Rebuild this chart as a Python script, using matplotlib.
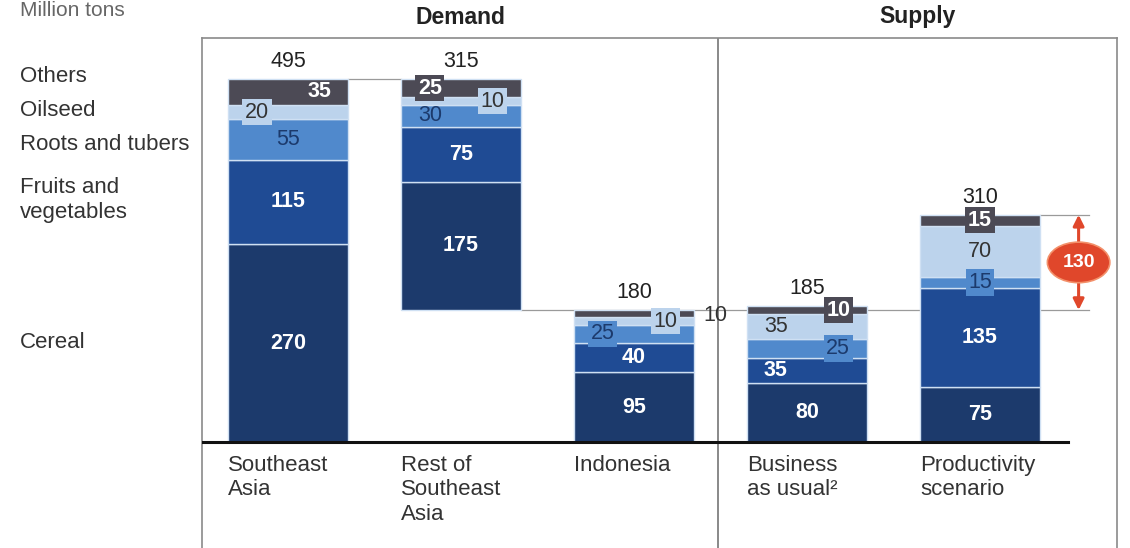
import matplotlib.pyplot as plt

plt.rcParams["font.family"] = ["Liberation Sans", "DejaVu Sans"]

# Food demand vs supply, million tons
categories = [
    "Southeast\nAsia",
    "Rest of\nSoutheast\nAsia",
    "Indonesia",
    "Business\nas usual²",
    "Productivity\nscenario",
]
segment_names = ["Cereal", "Fruits and\nvegetables", "Roots and tubers", "Oilseed", "Others"]
cereal = [270, 175, 95, 80, 75]
fruits_veg = [115, 75, 40, 35, 135]
roots = [55, 30, 25, 25, 15]
oilseed = [20, 10, 10, 35, 70]
others = [35, 25, 10, 10, 15]
totals = [495, 315, 180, 185, 310]
# Rest of Southeast Asia floats on top of Indonesia
bases = [0, 180, 0, 0, 0]
gap_value = 130

colors = ["#1c3a6c", "#1f4b94", "#5089cc", "#bcd3ec", "#4c4a55"]
text_colors = ["white", "white", "#1c3a6c", "#333333", "white"]
text_weights = ["bold", "bold", "normal", "normal", "bold"]

# horizontal offset of each segment label inside its bar (-1 left, 0 centre, 1 right)
label_side = [
    [0, 0, 0, -1, 1],
    [0, 0, -1, 1, -1],
    [0, 0, -1, 1, None],
    [0, -1, 1, -1, 1],
    [0, 0, 0, 0, 0],
]

fig = plt.figure(figsize=(11.3, 5.48), dpi=100)
ax = fig.add_axes([202 / 1130, 0, 915 / 1130, 510 / 548])

px_per_unit = 0.733
ax.set_ylim(-106 / px_per_unit, 404 / px_per_unit)
ax.set_xlim((202 - 288) / 173, (1117 - 288) / 173)
ax.set_xticks([])
ax.set_yticks([])
for side in ["left", "top", "right"]:
    ax.spines[side].set_color("#8a8a8a")
    ax.spines[side].set_linewidth(1.2)
ax.spines["bottom"].set_visible(False)

x = list(range(len(categories)))
width = 0.695
series = [cereal, fruits_veg, roots, oilseed, others]

bottoms = list(bases)
for k, values in enumerate(series):
    ax.bar(x, values, width, bottom=bottoms, color=colors[k],
           edgecolor="#cfe0f3", linewidth=1, zorder=3)
    for i, v in enumerate(values):
        side = label_side[i][k]
        if side is None:
            continue
        cy = bottoms[i] + v / 2
        box = None
        if v <= 25:
            box = dict(boxstyle="square,pad=0.12", fc=colors[k], ec="none")
        ax.text(i + side * 0.18, cy, str(v), ha="center", va="center",
                fontsize=15.5, color=text_colors[k], fontweight=text_weights[k],
                bbox=box, zorder=5)
    bottoms = [b + v for b, v in zip(bottoms, values)]

# Indonesia "Others" label sits outside the bar
ax.text(2.4, bottoms[2] - others[2] / 2 - 2, str(others[2]),
        ha="left", va="center", fontsize=15.5, color="#333333", zorder=5)

# totals above bars
for i, t in enumerate(totals):
    ax.annotate(str(t), (i, bases[i] + t), xytext=(0, 5), textcoords="offset points",
                ha="center", va="bottom", fontsize=15.5, color="#222222")

# connector lines
arrow_x = 4.57
top_sea = bases[0] + totals[0]
ax.plot([width / 2, 1 - width / 2], [top_sea, top_sea], color="#9a9a9a", lw=0.9, zorder=1)
ax.plot([1 + width / 2, arrow_x + 0.06], [totals[2], totals[2]], color="#9a9a9a", lw=0.9, zorder=1)
ax.plot([4 + width / 2, arrow_x + 0.06], [totals[4], totals[4]], color="#9a9a9a", lw=0.9, zorder=1)

# baseline and demand/supply divider
ax.plot([ax.get_xlim()[0], 4.51], [0, 0], color="#111111", lw=2.2, zorder=4)
ax.axvline(2.486, color="#6a6a6a", lw=1.1, zorder=2)

# gap arrow
red = "#e0472b"
ax.annotate("", xy=(arrow_x, totals[4]), xytext=(arrow_x, totals[2]),
            arrowprops=dict(arrowstyle="<|-|>", color=red, lw=2.2,
                            mutation_scale=16, shrinkA=0, shrinkB=0), zorder=5)
ax.text(arrow_x, (totals[2] + totals[4]) / 2, str(gap_value), ha="center", va="center",
        fontsize=14, fontweight="bold", color="white", zorder=6,
        bbox=dict(boxstyle="ellipse,pad=0.3", fc=red, ec="#f3906a", lw=1.2))

# category labels below the baseline
for i, name in enumerate(categories):
    ax.text(i - width / 2, -18, name, ha="left", va="top", fontsize=16,
            color="#333333", linespacing=1.2)

# section headers
fig.text(460 / 1130, 1 - 17 / 548, "Demand", ha="center", va="center",
         fontsize=16.5, fontweight="bold", color="#222222")
fig.text(918 / 1130, 1 - 17 / 548, "Supply", ha="center", va="center",
         fontsize=16.5, fontweight="bold", color="#222222")
fig.text(20 / 1130, 1 - 16 / 548, "Million tons", ha="left", va="baseline",
         fontsize=15, color="#666666")

# segment legend on the left
legend_y = [343, 200, 145, 111, 77]
for name, yp in zip(segment_names, legend_y):
    fig.text(20 / 1130, 1 - yp / 548, name, ha="left", va="center",
             fontsize=16, color="#333333", linespacing=1.25)

fig.savefig("out.png", dpi=100)
